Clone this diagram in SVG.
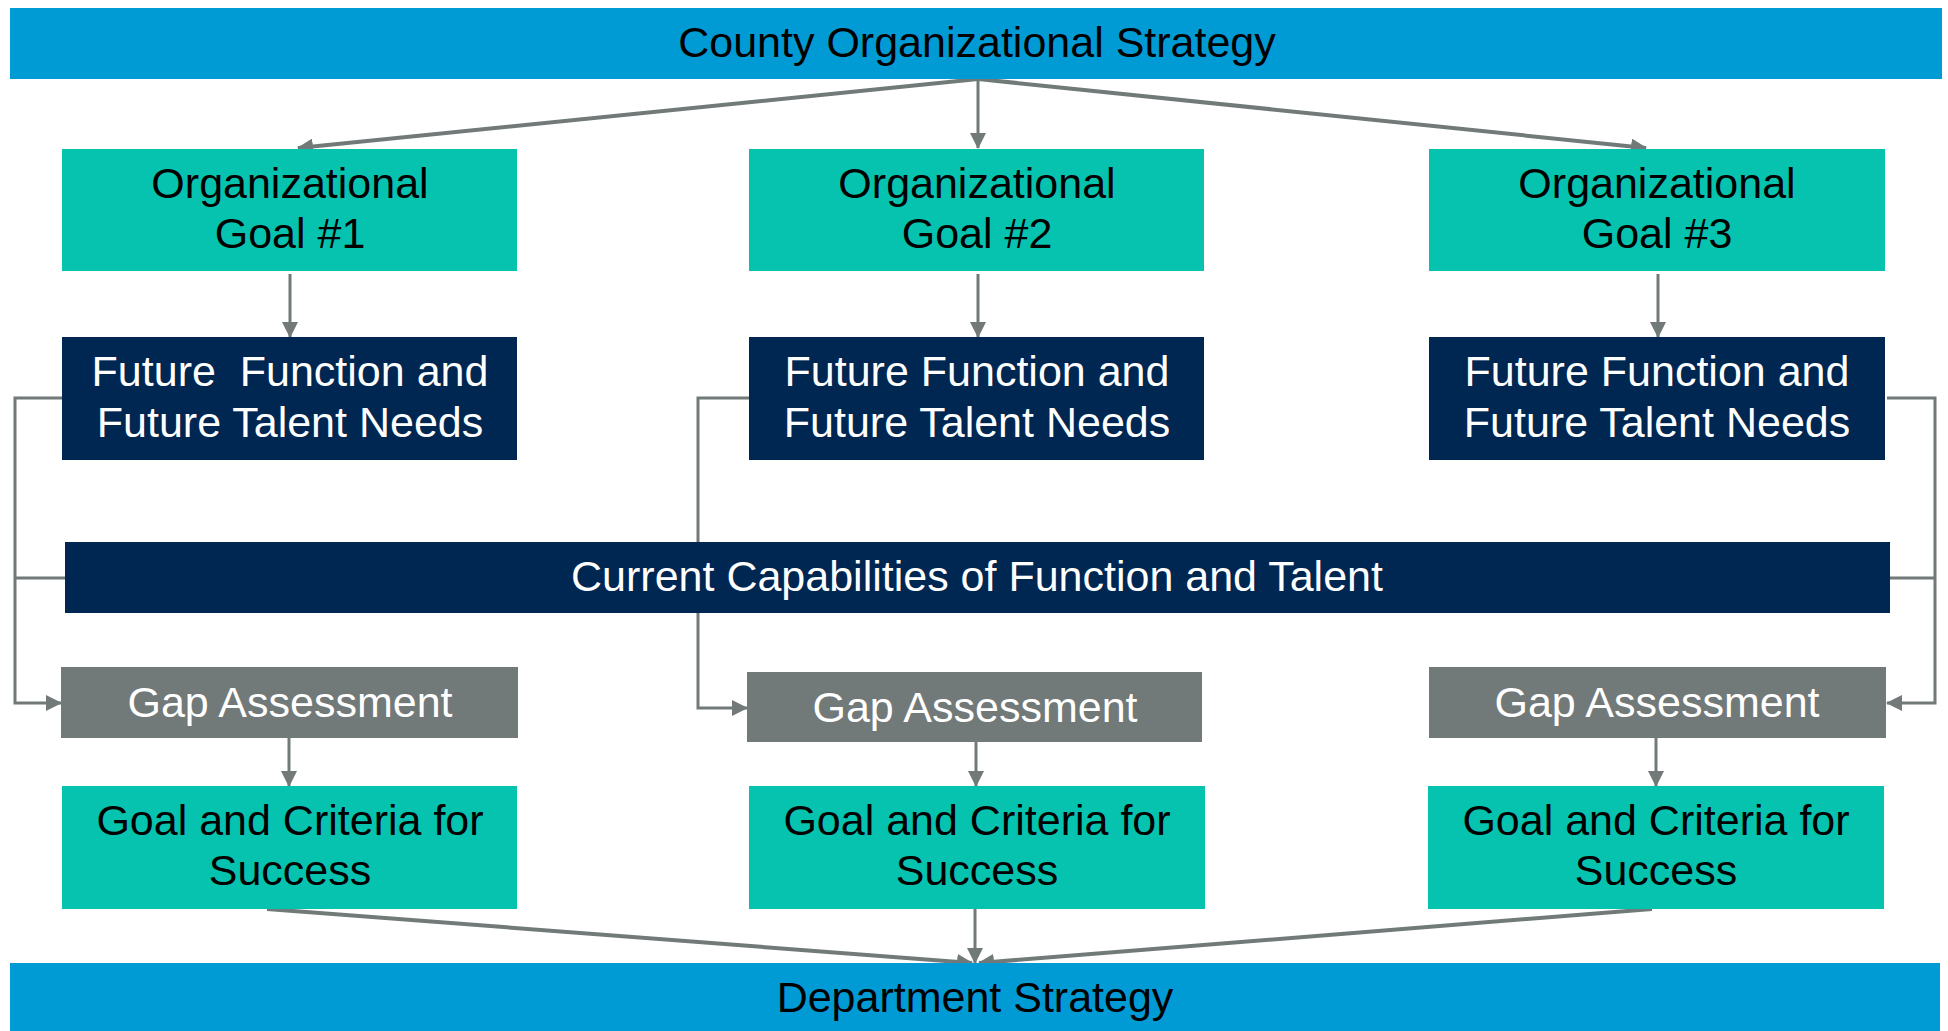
<svg xmlns="http://www.w3.org/2000/svg" width="1948" height="1031" viewBox="0 0 1948 1031">
<style>
  .t { font-family: "Liberation Sans", Arial, sans-serif; font-size: 43px; text-anchor: middle; }
  .dark { fill: #000000; }
  .light { fill: #ffffff; }
  .blue { fill: #009bd5; }
  .teal { fill: #06c3b0; }
  .navy { fill: #002652; }
  .grey { fill: #717979; }
  .c { fill: none; stroke: #717979; stroke-width: 3; }
  .cd { fill: none; stroke: #717979; stroke-width: 4; }
</style>
<defs>
  <marker id="ah" viewBox="0 0 16 16" refX="15" refY="8" markerWidth="16" markerHeight="16" markerUnits="userSpaceOnUse" orient="auto">
    <path d="M0,0 L16,8 L0,16 Z" fill="#717979"/>
  </marker>
</defs>
<rect width="1948" height="1031" fill="#ffffff"/>

<g id="connectors">
  <line class="cd" x1="978" y1="79" x2="298" y2="148" marker-end="url(#ah)"/>
  <line class="c" x1="978" y1="79" x2="978" y2="148" marker-end="url(#ah)"/>
  <line class="cd" x1="978" y1="79" x2="1646" y2="148" marker-end="url(#ah)"/>
  <line class="c" x1="290" y1="274" x2="290" y2="337" marker-end="url(#ah)"/>
  <line class="c" x1="978" y1="274" x2="978" y2="337" marker-end="url(#ah)"/>
  <line class="c" x1="1658" y1="274" x2="1658" y2="337" marker-end="url(#ah)"/>
  <polyline class="c" points="62,398 15,398 15,703 61,703" marker-end="url(#ah)"/>
  <line class="c" x1="65" y1="578" x2="15" y2="578"/>
  <polyline class="c" points="749,398 698,398 698,708 747,708" marker-end="url(#ah)"/>
  <polyline class="c" points="1887,398 1935,398 1935,703 1887,703" marker-end="url(#ah)"/>
  <line class="c" x1="1890" y1="578" x2="1935" y2="578"/>
  <line class="c" x1="289" y1="738" x2="289" y2="786" marker-end="url(#ah)"/>
  <line class="c" x1="976" y1="742" x2="976" y2="786" marker-end="url(#ah)"/>
  <line class="c" x1="1656" y1="738" x2="1656" y2="786" marker-end="url(#ah)"/>
  <line class="cd" x1="267" y1="909" x2="972" y2="963" marker-end="url(#ah)"/>
  <line class="c" x1="975" y1="909" x2="975" y2="963" marker-end="url(#ah)"/>
  <line class="cd" x1="1652" y1="909" x2="979" y2="963" marker-end="url(#ah)"/>
</g>

<g id="county">
  <rect class="blue" x="10" y="8" width="1932" height="71"/>
  <text class="t dark" x="977" y="57">County Organizational Strategy</text>
</g>

<g id="goal1">
  <rect class="teal" x="62" y="149" width="455" height="122"/>
  <text class="t dark" x="290" y="198">Organizational</text>
  <text class="t dark" x="290" y="248">Goal #1</text>
</g>
<g id="goal2">
  <rect class="teal" x="749" y="149" width="455" height="122"/>
  <text class="t dark" x="977" y="198">Organizational</text>
  <text class="t dark" x="977" y="248">Goal #2</text>
</g>
<g id="goal3">
  <rect class="teal" x="1429" y="149" width="456" height="122"/>
  <text class="t dark" x="1657" y="198">Organizational</text>
  <text class="t dark" x="1657" y="248">Goal #3</text>
</g>

<g id="future1">
  <rect class="navy" x="62" y="337" width="455" height="123"/>
  <text class="t light" x="290" y="386" xml:space="preserve">Future  Function and</text>
  <text class="t light" x="290" y="437">Future Talent Needs</text>
</g>
<g id="future2">
  <rect class="navy" x="749" y="337" width="455" height="123"/>
  <text class="t light" x="977" y="386">Future Function and</text>
  <text class="t light" x="977" y="437">Future Talent Needs</text>
</g>
<g id="future3">
  <rect class="navy" x="1429" y="337" width="456" height="123"/>
  <text class="t light" x="1657" y="386">Future Function and</text>
  <text class="t light" x="1657" y="437">Future Talent Needs</text>
</g>

<g id="current">
  <rect class="navy" x="65" y="542" width="1825" height="71"/>
  <text class="t light" x="977" y="591">Current Capabilities of Function and Talent</text>
</g>

<g id="gap1">
  <rect class="grey" x="61" y="667" width="457" height="71"/>
  <text class="t light" x="290" y="717">Gap Assessment</text>
</g>
<g id="gap2">
  <rect class="grey" x="747" y="672" width="455" height="70"/>
  <text class="t light" x="975" y="722">Gap Assessment</text>
</g>
<g id="gap3">
  <rect class="grey" x="1429" y="667" width="457" height="71"/>
  <text class="t light" x="1657" y="717">Gap Assessment</text>
</g>

<g id="criteria1">
  <rect class="teal" x="62" y="786" width="455" height="123"/>
  <text class="t dark" x="290" y="835">Goal and Criteria for</text>
  <text class="t dark" x="290" y="885">Success</text>
</g>
<g id="criteria2">
  <rect class="teal" x="749" y="786" width="456" height="123"/>
  <text class="t dark" x="977" y="835">Goal and Criteria for</text>
  <text class="t dark" x="977" y="885">Success</text>
</g>
<g id="criteria3">
  <rect class="teal" x="1428" y="786" width="456" height="123"/>
  <text class="t dark" x="1656" y="835">Goal and Criteria for</text>
  <text class="t dark" x="1656" y="885">Success</text>
</g>

<g id="department">
  <rect class="blue" x="10" y="963" width="1930" height="68"/>
  <text class="t dark" x="975" y="1012">Department Strategy</text>
</g>
</svg>
